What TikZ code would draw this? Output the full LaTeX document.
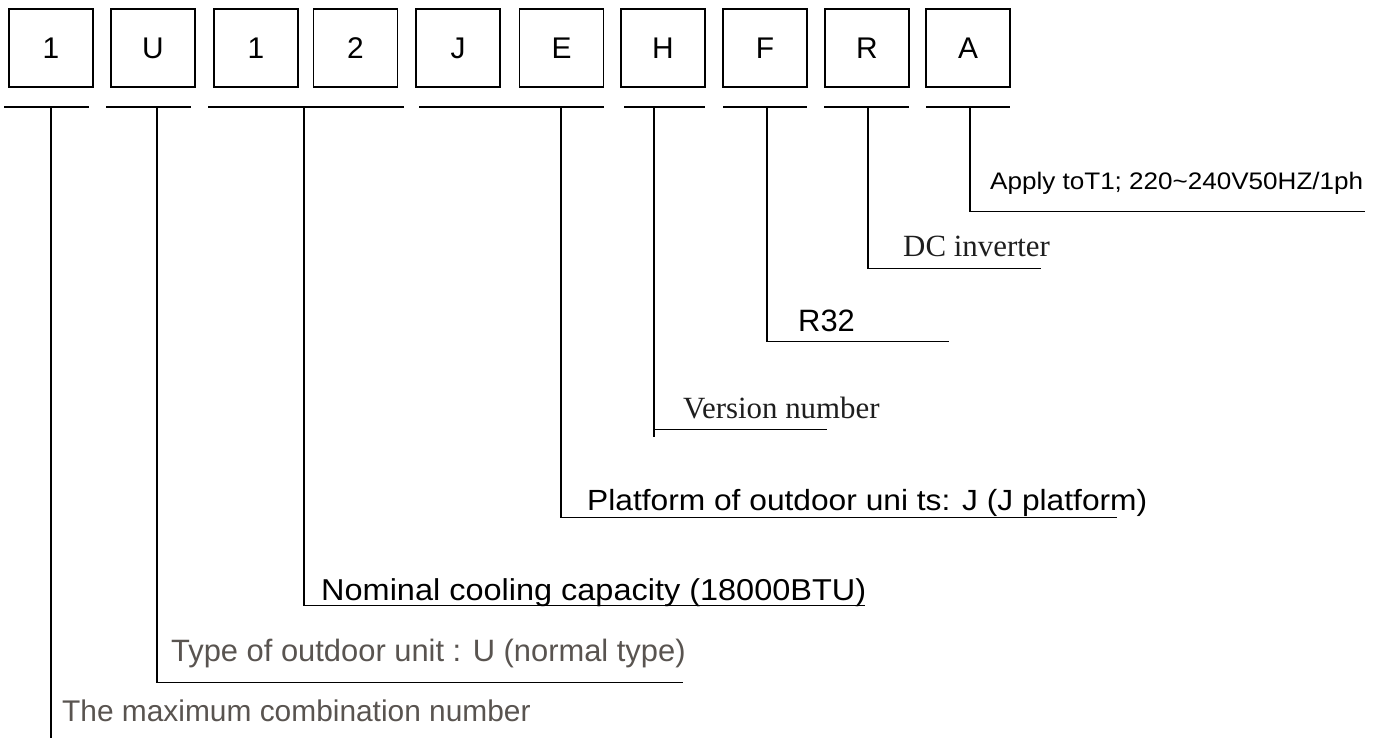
\documentclass[tikz,border=0pt]{standalone}
\usepackage{fontspec}
\setmainfont{Liberation Sans}
\newfontfamily\serifl{Liberation Serif}
\usepackage{graphicx}
\definecolor{grayt}{RGB}{89,84,80}
\definecolor{darkt}{RGB}{30,30,30}
\newcommand\wfit[2]{\resizebox{#1bp}{\height}{#2}}
\begin{document}
\begin{tikzpicture}[x=1bp,y=-1bp,
  digit/.style={draw, line width=1.8bp, minimum width=84bp, minimum height=78bp,
    inner sep=0pt, text height=22bp, text depth=0pt, font=\fontsize{30}{30}\selectfont},
  uline/.style={line width=1.9bp},
  stem/.style={line width=1.5bp},
  lbl/.style={anchor=base west, inner sep=0pt},
]
\useasboundingbox (0,0) rectangle (1389,738);
% code boxes
\node[digit] (b1) at (51,48) {1};
\node[digit] (b2) at (153,48) {U};
\node[digit] (b3) at (256,48) {1};
\node[digit] (b4) at (355.5,48) {2};
\node[digit] (b5) at (458,48) {J};
\node[digit] (b6) at (561.5,48) {E};
\node[digit] (b7) at (663,48) {H};
\node[digit] (b8) at (765,48) {F};
\node[digit] (b9) at (867,48) {R};
\node[digit] (b10) at (968,48) {A};
% underlines
\coordinate (u1a) at (4,107);   \coordinate (u1b) at (89,107);
\coordinate (u2a) at (106,107); \coordinate (u2b) at (191,107);
\coordinate (u3a) at (208,107); \coordinate (u3b) at (404,107);
\coordinate (u4a) at (419,107); \coordinate (u4b) at (604,107);
\coordinate (u5a) at (624,107); \coordinate (u5b) at (705,107);
\coordinate (u6a) at (723,107); \coordinate (u6b) at (807,107);
\coordinate (u7a) at (824,107); \coordinate (u7b) at (909,107);
\coordinate (u8a) at (926,107); \coordinate (u8b) at (1010,107);
\foreach \i in {1,...,8} \draw[uline] (u\i a) -- (u\i b);
% stem starts
\coordinate (s1) at (51,107);
\coordinate (s2) at (157,107);
\coordinate (s3) at (304,107);
\coordinate (s4) at (561,107);
\coordinate (s5) at (654,107);
\coordinate (s6) at (767,107);
\coordinate (s7) at (868,107);
\coordinate (s8) at (970,107);
% stem ends
\coordinate (e1) at (51,738);
\coordinate (e2) at (683,682.5);
\coordinate (e3) at (865,605.5);
\coordinate (e4) at (1117,517.5);
\coordinate (e5) at (827,429.5);
\coordinate (e5x) at (654,436.5);
\coordinate (e6) at (949,341.5);
\coordinate (e7) at (1041,268.5);
\coordinate (e8) at (1365,211.5);
\draw[stem] (s1) -- (e1);
\foreach \i in {2,3,4,5,6,7,8} \draw[stem] (s\i) |- (e\i);
\draw[stem] (s5) -- (e5x);
% labels
\node[lbl, font=\fontsize{24}{24}\selectfont] (t8) at (990,189.3)
  {\wfit{373}{Apply toT1; 220\char"007E 240V50HZ/1ph}};
\node[lbl, font=\fontsize{31}{31}\selectfont\serifl, text=darkt] (t7) at (903,256.7) {DC inverter};
\node[lbl, font=\fontsize{31}{31}\selectfont] (t6) at (798,331) {R32};
\node[lbl, font=\fontsize{31}{31}\selectfont\serifl, text=darkt] (t5) at (683,418) {Version number};
\node[lbl, font=\fontsize{29.3}{30}\selectfont] (t4) at (587,510)
  {\wfit{560}{Platform of outdoor uni ts: J (J platform)}};
\node[lbl, font=\fontsize{30.3}{31}\selectfont] (t3) at (321,600)
  {\wfit{545}{Nominal cooling capacity (18000BTU)}};
\node[lbl, font=\fontsize{31}{31}\selectfont, text=grayt] (t2) at (171,661.7)
  {Type of outdoor unit : U (normal type)};
\node[lbl, font=\fontsize{30}{30}\selectfont, text=grayt] (t1) at (62,721.7)
  {The maximum combination number};
\end{tikzpicture}
\end{document}
